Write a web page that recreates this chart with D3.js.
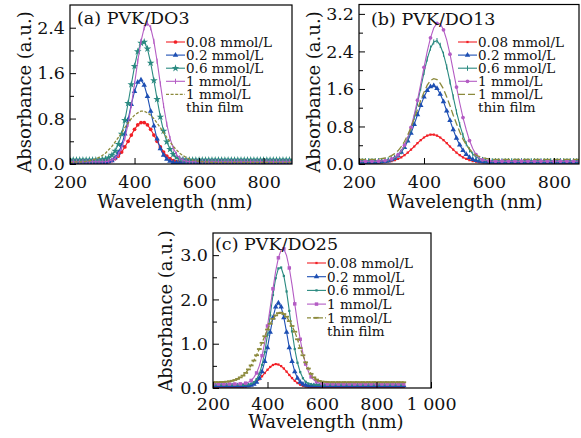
<!DOCTYPE html>
<html lang="en">
<head>
<meta charset="UTF-8">
<script src="https://d3js.org/d3.v7.min.js"></script>
<title>Absorbance spectra</title>
<style>
  body { margin: 0; background: #fff; }
  text { font-family: "DejaVu Serif", serif; fill: #111; }
</style>
</head>
<body>
<div id="chart"></div>
<script>
// wavelength grid (nm), shared by every spectrum
var wl = [200,210,220,230,240,250,260,270,280,290,
          300,310,320,330,340,350,360,370,380,390,
          400,410,420,430,440,450,460,470,480,490,
          500,510,520,530,540,550,560,570,580,590,
          600,610,620,630,640,650,660,670,680,690,
          700,710,720,730,740,750,760,770,780,790,
          800,810,820,830,840,850,860,870,880,890,
          900];

// (a) PVK/DO3
var aRed = [0.02,0.02,0.02,0.02,0.02,0.02,0.02,0.02,0.02,0.02,
            0.025,0.03,0.04,0.06,0.095,0.14,0.21,0.30,0.40,0.51,
            0.61,0.69,0.73,0.73,0.69,0.61,0.51,0.40,0.30,0.21,
            0.14,0.095,0.06,0.04,0.03,0.025,0.02,0.02,0.02,0.02,
            0.02,0.02,0.02,0.02,0.02,0.02,0.02,0.02,0.02,0.02,
            0.02,0.02,0.02,0.02,0.02,0.02,0.02,0.02,0.02,0.02,
            0.02,0.02,0.02,0.02,0.02,0.02,0.02,0.02,0.02,0.02,
            0.02];
var aBlue = [0.02,0.02,0.02,0.02,0.02,0.02,0.02,0.02,0.02,0.02,
             0.02,0.03,0.04,0.06,0.11,0.20,0.33,0.53,0.78,1.05,
             1.28,1.44,1.48,1.39,1.19,0.93,0.67,0.44,0.27,0.155,
             0.085,0.05,0.03,0.025,0.02,0.02,0.02,0.02,0.02,0.02,
             0.02,0.02,0.02,0.02,0.02,0.02,0.02,0.02,0.02,0.02,
             0.02,0.02,0.02,0.02,0.02,0.02,0.02,0.02,0.02,0.02,
             0.02,0.02,0.02,0.02,0.02,0.02,0.02,0.02,0.02,0.02,
             0.02];
var aTeal = [0.07,0.07,0.07,0.07,0.07,0.07,0.07,0.07,0.07,0.07,
             0.08,0.09,0.11,0.16,0.23,0.35,0.53,0.77,1.07,1.40,
             1.72,1.98,2.13,2.15,2.03,1.78,1.47,1.14,0.83,0.58,
             0.39,0.26,0.17,0.12,0.09,0.08,0.07,0.07,0.07,0.07,
             0.07,0.07,0.07,0.07,0.07,0.07,0.07,0.07,0.07,0.07,
             0.07,0.07,0.07,0.07,0.07,0.07,0.07,0.07,0.07,0.07,
             0.07,0.07,0.07,0.07,0.07,0.07,0.07,0.07,0.07,0.07,
             0.07];
var aPurple = [0.04,0.04,0.04,0.04,0.04,0.04,0.04,0.04,0.04,0.04,
               0.04,0.04,0.05,0.07,0.10,0.17,0.28,0.45,0.70,1.03,
               1.41,1.81,2.16,2.40,2.48,2.40,2.16,1.81,1.41,1.03,
               0.70,0.45,0.28,0.17,0.10,0.07,0.05,0.04,0.04,0.04,
               0.04,0.04,0.04,0.04,0.04,0.04,0.04,0.04,0.04,0.04,
               0.04,0.04,0.04,0.04,0.04,0.04,0.04,0.04,0.04,0.04,
               0.04,0.04,0.04,0.04,0.04,0.04,0.04,0.04,0.04,0.04,
               0.04];
var aFilm = [0.03,0.03,0.035,0.035,0.04,0.047,0.057,0.07,0.09,0.115,
             0.15,0.19,0.25,0.31,0.39,0.47,0.55,0.64,0.72,0.80,
             0.86,0.90,0.93,0.93,0.90,0.86,0.80,0.72,0.64,0.55,
             0.47,0.39,0.31,0.25,0.19,0.15,0.115,0.09,0.07,0.057,
             0.047,0.04,0.035,0.035,0.03,0.03,0.03,0.03,0.03,0.03,
             0.03,0.03,0.03,0.03,0.03,0.03,0.03,0.03,0.03,0.03,
             0.03,0.03,0.03,0.03,0.03,0.03,0.03,0.03,0.03,0.03,
             0.03];

// (b) PVK/DO13
var bRed = [0.03,0.03,0.03,0.03,0.03,0.03,0.03,0.037,0.042,0.05,
            0.063,0.082,0.108,0.143,0.188,0.242,0.305,0.373,0.443,0.508,
            0.565,0.605,0.627,0.627,0.605,0.565,0.508,0.443,0.373,0.305,
            0.242,0.188,0.143,0.108,0.082,0.063,0.05,0.042,0.037,0.034,
            0.03,0.03,0.03,0.03,0.03,0.03,0.03,0.03,0.03,0.03,
            0.03,0.03,0.03,0.03,0.03,0.03,0.03,0.03,0.03,0.03,
            0.03,0.03,0.03,0.03,0.03,0.03,0.03,0.03,0.03,0.03,
            0.03];
var bBlue = [0.04,0.04,0.04,0.04,0.04,0.04,0.044,0.05,0.055,0.068,
             0.09,0.124,0.176,0.252,0.355,0.49,0.656,0.845,1.05,1.25,
             1.43,1.57,1.65,1.67,1.61,1.49,1.33,1.13,0.93,0.73,
             0.55,0.405,0.29,0.203,0.142,0.10,0.075,0.059,0.05,0.045,
             0.04,0.04,0.04,0.04,0.04,0.04,0.04,0.04,0.04,0.04,
             0.04,0.04,0.04,0.04,0.04,0.04,0.04,0.04,0.04,0.04,
             0.04,0.04,0.04,0.04,0.04,0.04,0.04,0.04,0.04,0.04,
             0.04];
var bTeal = [0.07,0.07,0.07,0.07,0.07,0.07,0.07,0.075,0.08,0.09,
             0.107,0.137,0.185,0.262,0.375,0.53,0.74,1.00,1.30,1.62,
             1.95,2.24,2.47,2.60,2.63,2.53,2.34,2.07,1.75,1.43,
             1.11,0.84,0.61,0.43,0.30,0.21,0.15,0.117,0.095,0.082,
             0.075,0.07,0.07,0.07,0.07,0.07,0.07,0.07,0.07,0.07,
             0.07,0.07,0.07,0.07,0.07,0.07,0.07,0.07,0.07,0.07,
             0.07,0.07,0.07,0.07,0.07,0.07,0.07,0.07,0.07,0.07,
             0.07];
var bPurple = [0.06,0.06,0.06,0.06,0.06,0.06,0.06,0.067,0.074,0.086,
               0.107,0.14,0.196,0.28,0.40,0.56,0.78,1.05,1.36,1.71,
               2.06,2.40,2.69,2.90,3.00,2.99,2.86,2.64,2.34,1.99,
               1.64,1.30,0.99,0.73,0.50,0.33,0.20,0.12,0.09,0.075,
               0.068,0.06,0.06,0.06,0.06,0.06,0.06,0.06,0.06,0.06,
               0.06,0.06,0.06,0.06,0.06,0.06,0.06,0.06,0.06,0.06,
               0.06,0.06,0.06,0.06,0.06,0.06,0.06,0.06,0.06,0.06,
               0.06];
var bFilm = [0.10,0.10,0.10,0.10,0.10,0.10,0.11,0.116,0.128,0.147,
             0.178,0.22,0.28,0.37,0.48,0.62,0.78,0.97,1.16,1.36,
             1.53,1.68,1.78,1.82,1.80,1.72,1.60,1.43,1.24,1.04,
             0.86,0.68,0.53,0.41,0.32,0.24,0.19,0.16,0.135,0.12,
             0.11,0.10,0.10,0.10,0.10,0.10,0.10,0.10,0.10,0.10,
             0.10,0.10,0.10,0.10,0.10,0.10,0.10,0.10,0.10,0.10,
             0.10,0.10,0.10,0.10,0.10,0.10,0.10,0.10,0.10,0.10,
             0.10];

// (c) PVK/DO25
var cRed = [0.01,0.01,0.01,0.01,0.01,0.01,0.01,0.01,0.01,0.01,
            0.015,0.02,0.028,0.042,0.064,0.096,0.14,0.198,0.265,0.339,
            0.412,0.475,0.52,0.54,0.53,0.495,0.44,0.369,0.294,0.224,
            0.162,0.112,0.075,0.05,0.033,0.022,0.016,0.01,0.01,0.01,
            0.01,0.01,0.01,0.01,0.01,0.01,0.01,0.01,0.01,0.01,
            0.01,0.01,0.01,0.01,0.01,0.01,0.01,0.01,0.01,0.01,
            0.01,0.01,0.01,0.01,0.01,0.01,0.01,0.01,0.01,0.01,
            0.01];
var cBlue = [0.05,0.05,0.05,0.05,0.05,0.05,0.05,0.05,0.05,0.05,
             0.05,0.05,0.05,0.055,0.064,0.086,0.13,0.22,0.37,0.60,
             0.91,1.26,1.59,1.83,1.92,1.83,1.59,1.26,0.91,0.60,
             0.37,0.22,0.13,0.086,0.064,0.055,0.05,0.05,0.05,0.05,
             0.05,0.05,0.05,0.05,0.05,0.05,0.05,0.05,0.05,0.05,
             0.05,0.05,0.05,0.05,0.05,0.05,0.05,0.05,0.05,0.05,
             0.05,0.05,0.05,0.05,0.05,0.05,0.05,0.05,0.05,0.05,
             0.05];
var cTeal = [0.07,0.07,0.07,0.07,0.07,0.07,0.07,0.07,0.07,0.07,
             0.07,0.07,0.074,0.08,0.097,0.13,0.20,0.32,0.52,0.81,
             1.20,1.64,2.10,2.48,2.70,2.72,2.53,2.18,1.74,1.28,
             0.88,0.57,0.36,0.22,0.14,0.10,0.083,0.075,0.07,0.07,
             0.07,0.07,0.07,0.07,0.07,0.07,0.07,0.07,0.07,0.07,
             0.07,0.07,0.07,0.07,0.07,0.07,0.07,0.07,0.07,0.07,
             0.07,0.07,0.07,0.07,0.07,0.07,0.07,0.07,0.07,0.07,
             0.07];
var cPurple = [0.09,0.09,0.09,0.09,0.09,0.09,0.09,0.09,0.09,0.09,
               0.094,0.10,0.11,0.13,0.17,0.24,0.34,0.50,0.73,1.03,
               1.40,1.82,2.24,2.64,2.94,3.12,3.14,2.99,2.71,2.33,
               1.90,1.48,1.10,0.78,0.54,0.37,0.25,0.18,0.14,0.114,
               0.10,0.095,0.09,0.09,0.09,0.09,0.09,0.09,0.09,0.09,
               0.09,0.09,0.09,0.09,0.09,0.09,0.09,0.09,0.09,0.09,
               0.09,0.09,0.09,0.09,0.09,0.09,0.09,0.09,0.09,0.09,
               0.09];
var cFilm = [0.13,0.13,0.133,0.135,0.138,0.143,0.15,0.163,0.18,0.205,
             0.24,0.28,0.34,0.42,0.51,0.62,0.74,0.88,1.02,1.17,
             1.32,1.45,1.56,1.64,1.69,1.70,1.67,1.61,1.51,1.40,
             1.27,1.10,0.90,0.74,0.58,0.44,0.32,0.24,0.19,0.16,
             0.145,0.14,0.135,0.13,0.13,0.13,0.13,0.13,0.13,0.13,
             0.13,0.13,0.13,0.13,0.13,0.13,0.13,0.13,0.13,0.13,
             0.13,0.13,0.13,0.13,0.13,0.13,0.13,0.13,0.13,0.13,
             0.13];

var legendLabels = ["0.08 mmol/L", "0.2 mmol/L", "0.6 mmol/L", "1 mmol/L", "1 mmol/L"];
var filmNote = "thin film";
var panelTitles = ["(a) PVK/DO3", "(b) PVK/DO13", "(c) PVK/DO25"];

var abXTicks = [200, 400, 600, 800];
var cXTicks = [200, 400, 600, 800, 1000];
var aYTicks = [0, 0.8, 1.6, 2.4];
var aYMinor = [0.4, 1.2, 2.0];
var bYTicks = [0, 0.8, 1.6, 2.4, 3.2];
var bYMinor = [0.4, 1.2, 2.0, 2.8];
var cYTicks = [0, 1.0, 2.0, 3.0];
var cYMinor = [0.5, 1.5, 2.5];

var colors = ["#f21f26", "#1d4fb3", "#2a8a80", "#b45cc4", "#8c8a3c"];

var panels = [
    {id: "a", l: 70, r: 292, t: 5, b: 164, xMax: 888, yMax: 2.8,
     xTicks: abXTicks, yTicks: aYTicks, yMinor: aYMinor, xPad: 12,
     title: panelTitles[0], titleX: 77, titleY: 24,
     yTitleX: 24, yTitleY: 92, xTitleX: 175, xTitleY: 208,
     legX: 166, legY: 42, legStep: 13.1,
     series: [
        {v: aRed, m: "circle"}, {v: aBlue, m: "triangle"}, {v: aTeal, m: "star"},
        {v: aPurple, m: "plus"}, {v: aFilm, m: "none", dash: "3,1.6"}]},
    {id: "b", l: 359, r: 579, t: 4.5, b: 164, xMax: 877, yMax: 3.4,
     xTicks: abXTicks, yTicks: bYTicks, yMinor: bYMinor, xPad: 12,
     title: panelTitles[1], titleX: 371, titleY: 25,
     yTitleX: 313, yTitleY: 92, xTitleX: 465, xTitleY: 208,
     legX: 458, legY: 42, legStep: 13.1,
     series: [
        {v: bRed, m: "dot"}, {v: bBlue, m: "triangle"}, {v: bTeal, m: "plus"},
        {v: bPurple, m: "circle", every: 2}, {v: bFilm, m: "none", dash: "7,3"}]},
    {id: "c", l: 213, r: 431, t: 233, b: 388, xMax: 1000, yMax: 3.5,
     xTicks: cXTicks, yTicks: cYTicks, yMinor: cYMinor, xPad: 10,
     title: panelTitles[2], titleX: 215, titleY: 250,
     yTitleX: 165, yTitleY: 311, xTitleX: 326, xTitleY: 428,
     legX: 307, legY: 263, legStep: 13.7,
     series: [
        {v: cRed, m: "dot"}, {v: cBlue, m: "triangle"}, {v: cTeal, m: "dot"},
        {v: cPurple, m: "square", every: 2}, {v: cFilm, m: "hbar", dash: "4,2"}]}
];

var svg = d3.select("#chart").append("svg")
    .attr("width", 581)
    .attr("height", 438);
svg.append("rect").attr("width", 581).attr("height", 438).attr("fill", "#fff");

var symbols = {circle: [d3.symbolCircle, 11], triangle: [d3.symbolTriangle, 13],
               star: [d3.symbolStar, 18], square: [d3.symbolSquare, 12], dot: [d3.symbolSquare, 5]};

function drawMarker(g, type, cx, cy, color) {
    if (type === "none") return;
    if (type === "plus") {
        g.append("line").attr("x1", cx).attr("x2", cx).attr("y1", cy - 2.6).attr("y2", cy + 2.6)
            .attr("stroke", color).attr("stroke-width", 1);
    } else if (type === "hbar") {
        g.append("line").attr("x1", cx - 2.4).attr("x2", cx + 2.4).attr("y1", cy).attr("y2", cy)
            .attr("stroke", color).attr("stroke-width", 1.8);
    } else {
        var s = symbols[type];
        g.append("path").attr("d", d3.symbol(s[0], s[1])())
            .attr("transform", "translate(" + cx + "," + cy + ")")
            .attr("fill", color);
    }
}

function styleAxis(sel) {
    sel.select(".domain").remove();
    sel.selectAll(".tick line").attr("stroke", "#000").attr("stroke-width", 1);
    sel.attr("font-family", "DejaVu Serif, serif").attr("font-size", 17.5);
    sel.selectAll("text").attr("fill", "#111");
}

panels.forEach(function(p) {
    var x = d3.scaleLinear().domain([200, p.xMax]).range([p.l, p.r]);
    var y = d3.scaleLinear().domain([0, p.yMax]).range([p.b, p.t]);
    var g = svg.append("g");

    svg.append("clipPath").attr("id", "clip-" + p.id)
        .append("rect").attr("x", p.l).attr("y", p.t)
        .attr("width", p.r - p.l).attr("height", p.b - p.t);

    // spectra
    var plot = g.append("g").attr("clip-path", "url(#clip-" + p.id + ")");
    p.series.forEach(function(s, k) {
        var line = d3.line()
            .x(function(d, i) { return x(wl[i]); })
            .y(function(d) { return y(d); });
        plot.append("path")
            .datum(s.v)
            .attr("fill", "none")
            .attr("stroke", colors[k])
            .attr("stroke-width", s.dash ? 1.3 : 1.1)
            .attr("stroke-dasharray", s.dash || null)
            .attr("d", line);
        var every = s.every || 1;
        s.v.forEach(function(d, i) {
            if (i % every === 0) drawMarker(plot, s.m, x(wl[i]), y(d), colors[k]);
        });
    });

    // axes, ticks pointing inward
    g.append("g").attr("transform", "translate(" + p.l + ",0)")
        .call(d3.axisLeft(y).tickValues(p.yTicks).tickSize(-6).tickPadding(5)
            .tickFormat(d3.format(".1f")))
        .call(styleAxis);
    g.append("g").attr("transform", "translate(" + p.l + ",0)")
        .call(d3.axisLeft(y).tickValues(p.yMinor).tickSize(-4).tickFormat(""))
        .call(styleAxis);
    g.append("g").attr("transform", "translate(0," + p.b + ")")
        .call(d3.axisBottom(x).tickValues(p.xTicks).tickSize(-6).tickPadding(p.xPad)
            .tickFormat(function(d) { return d === 1000 ? "1 000" : d; }))
        .call(styleAxis);

    g.append("rect")
        .attr("x", p.l).attr("y", p.t)
        .attr("width", p.r - p.l).attr("height", p.b - p.t)
        .attr("fill", "none").attr("stroke", "#000").attr("stroke-width", 1.2);

    // titles
    g.append("text").attr("x", p.titleX).attr("y", p.titleY)
        .attr("font-size", 17.5).text(p.title);
    g.append("text").attr("x", p.xTitleX).attr("y", p.xTitleY)
        .attr("text-anchor", "middle").attr("font-size", 18).text("Wavelength (nm)");
    g.append("text")
        .attr("transform", "translate(" + p.yTitleX + "," + p.yTitleY + ") rotate(-90)")
        .attr("text-anchor", "middle").attr("dominant-baseline", "central")
        .attr("font-size", 18).text("Absorbance (a.u.)");

    // legend
    p.series.forEach(function(s, k) {
        var ly = p.legY + k * p.legStep;
        g.append("line").attr("x1", p.legX).attr("x2", p.legX + 19)
            .attr("y1", ly).attr("y2", ly)
            .attr("stroke", colors[k]).attr("stroke-width", s.dash ? 1.3 : 1.1)
            .attr("stroke-dasharray", s.dash || null);
        drawMarker(g, s.m, p.legX + 9.5, ly, colors[k]);
        g.append("text").attr("x", p.legX + 20).attr("y", ly)
            .attr("dy", "0.36em").attr("font-size", 13.5).text(legendLabels[k]);
    });
    g.append("text").attr("x", p.legX + 20).attr("y", p.legY + 5 * p.legStep)
        .attr("dy", "0.36em").attr("font-size", 13.5).text(filmNote);
});
</script>
</body>
</html>
